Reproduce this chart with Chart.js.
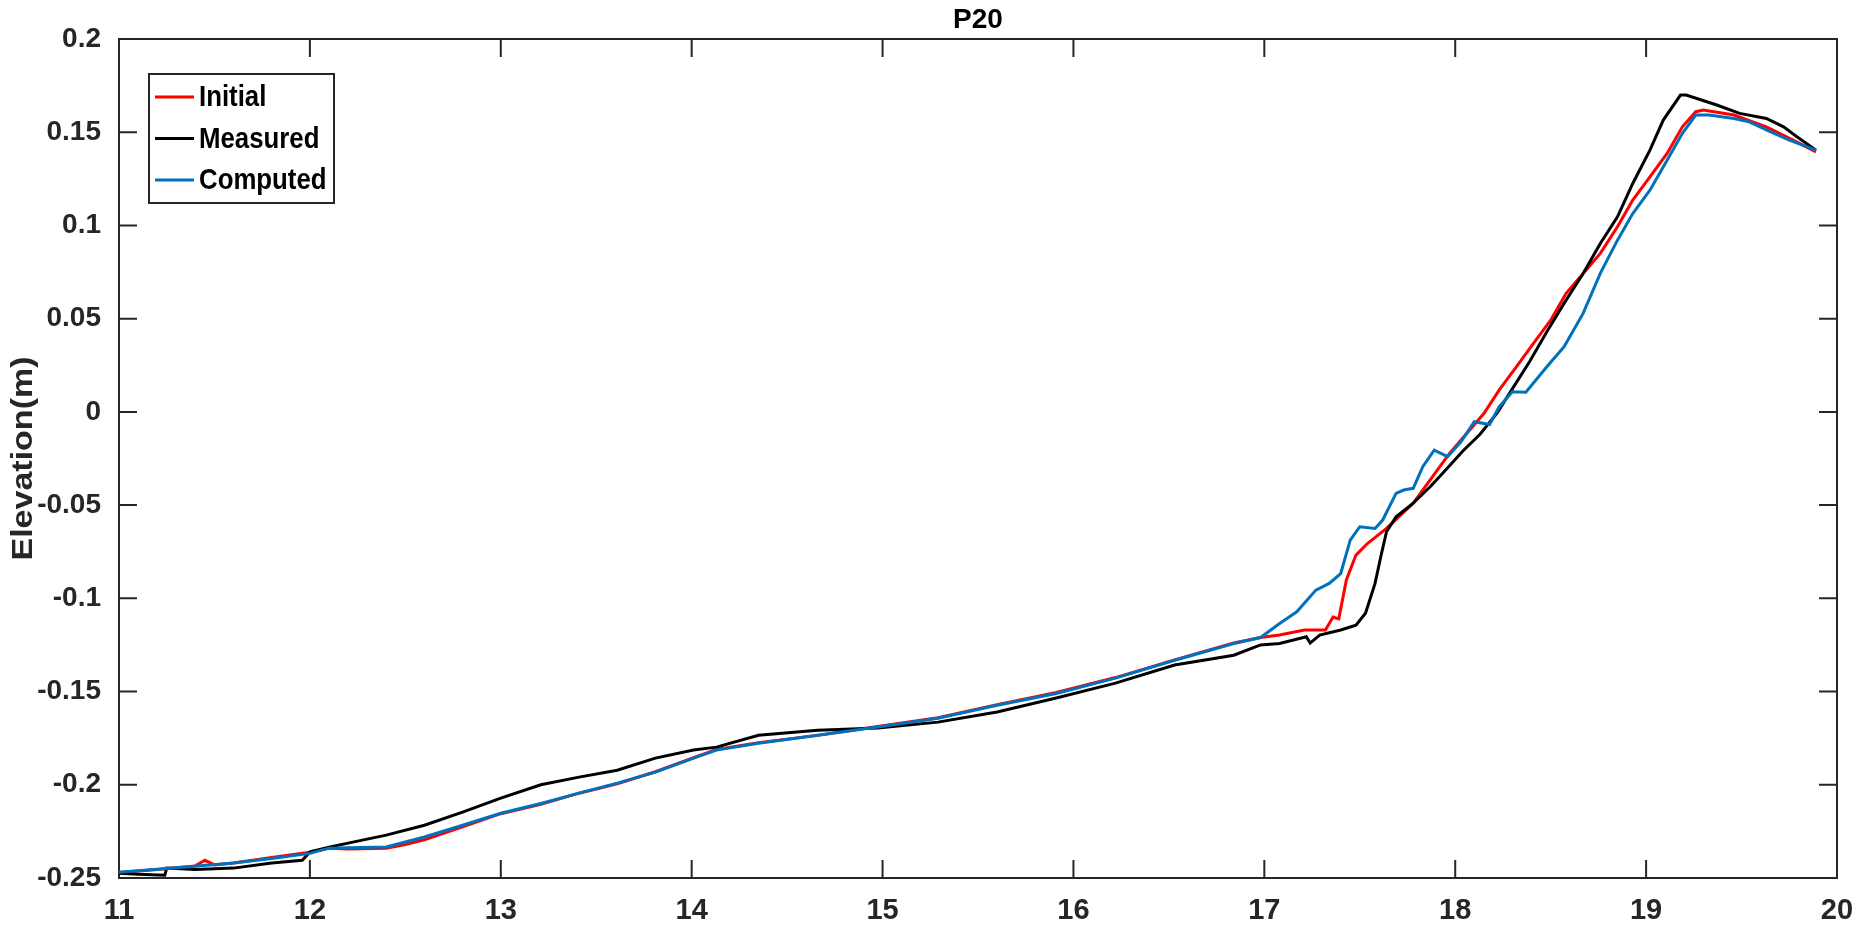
<!DOCTYPE html>
<html>
<head>
<meta charset="utf-8">
<title>P20</title>
<script src="https://cdn.jsdelivr.net/npm/chart.js@4/dist/chart.umd.min.js"></script>
<style>
  html, body { margin: 0; padding: 0; background: #fff; }
  #wrap { width: 1868px; height: 930px; }
</style>
</head>
<body>
<div id="wrap"><canvas id="profile" width="1868" height="930"></canvas></div>
<script>
// --- дані ---
const initialX = [11.00, 11.20, 11.40, 11.45, 11.50, 11.60, 11.80, 12.00, 12.10, 12.20, 12.40, 12.50, 12.60,
  12.80, 13.00, 13.21, 13.41, 13.61, 13.81, 14.01, 14.13, 14.35, 14.66, 14.975, 15.29, 15.60, 15.91,
  16.22, 16.53, 16.84, 16.98, 17.08, 17.21, 17.32, 17.36, 17.39, 17.43, 17.48, 17.54, 17.64, 17.78,
  17.97, 18.06, 18.15, 18.23, 18.32, 18.41, 18.50, 18.58, 18.67, 18.76, 18.85, 18.93, 19.02, 19.11,
  19.19, 19.26, 19.30, 19.46, 19.63, 19.77, 19.89];
const initialY = [-0.2470, -0.2455, -0.2435, -0.2405, -0.2430, -0.2420, -0.2390, -0.2362, -0.2340, -0.2345, -0.2340, -0.2320, -0.2295,
  -0.2225, -0.2155, -0.2105, -0.2045, -0.1995, -0.1930, -0.1855, -0.1810, -0.1775, -0.1735, -0.1688, -0.1640, -0.1570, -0.1505,
  -0.1425, -0.1330, -0.1240, -0.1210, -0.1197, -0.1170, -0.1170, -0.1100, -0.1110, -0.0900, -0.0768, -0.0706, -0.0625, -0.0490,
  -0.0223, -0.0116, -0.0009, 0.0117, 0.0242, 0.0367, 0.0492, 0.0635, 0.0742, 0.0850, 0.0993, 0.1136, 0.1261, 0.1386,
  0.1529, 0.1610, 0.1619, 0.1592, 0.1529, 0.1458, 0.1395];

const measuredX = [11.00, 11.10, 11.24, 11.25, 11.40, 11.60, 11.80, 11.96, 12.00, 12.10, 12.20, 12.40, 12.60,
  12.80, 13.00, 13.21, 13.41, 13.61, 13.81, 14.01, 14.13, 14.35, 14.66, 14.975, 15.29, 15.60, 15.91,
  16.22, 16.53, 16.84, 16.98, 17.08, 17.22, 17.24, 17.29, 17.40, 17.48, 17.53, 17.58, 17.61, 17.64,
  17.69, 17.78, 17.87, 17.95, 18.04, 18.13, 18.22, 18.30, 18.39, 18.48, 18.57, 18.67, 18.76, 18.85,
  18.93, 19.02, 19.09, 19.18, 19.21, 19.37, 19.49, 19.63, 19.72, 19.79, 19.89];
const measuredY = [-0.2475, -0.2480, -0.2485, -0.2447, -0.2455, -0.2447, -0.2420, -0.2405, -0.2360, -0.2335, -0.2313, -0.2270, -0.2217,
  -0.2147, -0.2072, -0.2000, -0.1959, -0.1922, -0.1857, -0.1814, -0.1798, -0.1734, -0.1707, -0.1696, -0.1664, -0.1610, -0.1535,
  -0.1455, -0.1358, -0.1305, -0.1250, -0.1242, -0.1206, -0.1240, -0.1197, -0.1170, -0.1144, -0.1080, -0.0920, -0.0777, -0.0643,
  -0.0563, -0.0490, -0.0400, -0.0312, -0.0210, -0.0120, -0.0005, 0.0125, 0.0270, 0.0430, 0.0582, 0.0742, 0.0903, 0.1046,
  0.1225, 0.1404, 0.1565, 0.1699, 0.1699, 0.1646, 0.1601, 0.1574, 0.1529, 0.1476, 0.1404];

const computedX = [11.00, 11.30, 11.60, 11.80, 12.00, 12.10, 12.20, 12.40, 12.60, 12.80, 13.00, 13.21, 13.41,
  13.61, 13.81, 14.01, 14.13, 14.35, 14.66, 14.975, 15.29, 15.60, 15.91, 16.22, 16.53, 16.84, 16.98,
  17.08, 17.17, 17.27, 17.34, 17.40, 17.45, 17.50, 17.58, 17.62, 17.69, 17.73, 17.78, 17.83, 17.89,
  17.96, 18.03, 18.10, 18.18, 18.23, 18.30, 18.37, 18.48, 18.57, 18.67, 18.76, 18.85, 18.93, 19.02,
  19.11, 19.19, 19.26, 19.33, 19.46, 19.54, 19.65, 19.75, 19.89];
const computedY = [-0.2469, -0.2445, -0.2420, -0.2395, -0.2368, -0.2340, -0.2338, -0.2334, -0.2280, -0.2217, -0.2153, -0.2100, -0.2045,
  -0.1991, -0.1932, -0.1857, -0.1814, -0.1777, -0.1734, -0.1690, -0.1643, -0.1573, -0.1510, -0.1428, -0.1332, -0.1242, -0.1210,
  -0.1135, -0.1072, -0.0956, -0.0920, -0.0867, -0.0688, -0.0616, -0.0625, -0.0580, -0.0437, -0.0419, -0.0410, -0.0294, -0.0205,
  -0.0240, -0.0160, -0.0053, -0.0068, 0.0027, 0.0108, 0.0105, 0.0242, 0.0349, 0.0528, 0.0743, 0.0921, 0.1064, 0.1189,
  0.1350, 0.1494, 0.1592, 0.1592, 0.1574, 0.1556, 0.1503, 0.1458, 0.1404];

const seriesNames = ['Initial', 'Measured', 'Computed'];
const xTicks = [11, 12, 13, 14, 15, 16, 17, 18, 19, 20];
const yTicks = [-0.25, -0.2, -0.15, -0.1, -0.05, 0, 0.05, 0.1, 0.15, 0.2];
const yTickLabels = ['-0.25', '-0.2', '-0.15', '-0.1', '-0.05', '0', '0.05', '0.1', '0.15', '0.2'];
const chartTitle = 'P20';
const yTitle = 'Elevation(m)';

// --- стилі ---
const AXIS_COLOR = '#262626';
const FONT = '"Liberation Sans", Arial, sans-serif';
const COLORS = ['#FF0000', '#000000', '#0072BD'];

function toPoints(xs, ys) {
    return xs.map((x, i) => ({ x: x, y: ys[i] }));
}

// рамка, внутрішні риски, заголовок і легенда в стилі MATLAB
const matlabFrame = {
    id: 'matlabFrame',
    beforeDatasetsDraw(chart) {
        const { ctx, chartArea: a, scales } = chart;
        ctx.save();
        ctx.strokeStyle = AXIS_COLOR;
        ctx.lineWidth = 2;
        ctx.strokeRect(a.left, a.top, a.right - a.left, a.bottom - a.top);
        const len = 18;
        ctx.beginPath();
        xTicks.forEach(v => {
            const px = scales.x.getPixelForValue(v);
            ctx.moveTo(px, a.bottom); ctx.lineTo(px, a.bottom - len);
            ctx.moveTo(px, a.top); ctx.lineTo(px, a.top + len);
        });
        yTicks.forEach(v => {
            const py = scales.y.getPixelForValue(v);
            ctx.moveTo(a.left, py); ctx.lineTo(a.left + len, py);
            ctx.moveTo(a.right, py); ctx.lineTo(a.right - len, py);
        });
        ctx.stroke();
        ctx.restore();
    },
    afterDraw(chart) {
        const { ctx, chartArea: a } = chart;
        ctx.save();
        // заголовок
        ctx.fillStyle = '#000';
        ctx.font = 'bold 28px ' + FONT;
        ctx.textAlign = 'center';
        ctx.textBaseline = 'middle';
        ctx.fillText(chartTitle, (a.left + a.right) / 2, 20);

        // підпис осі Y (трохи стиснутий, як у MATLAB)
        ctx.save();
        ctx.translate(24, (a.top + a.bottom) / 2);
        ctx.rotate(-Math.PI / 2);
        ctx.scale(1, 0.85);
        ctx.font = 'bold 34px ' + FONT;
        ctx.fillStyle = AXIS_COLOR;
        ctx.fillText(yTitle, 0, 0);
        ctx.restore();

        // легенда
        const bx = 149, by = 74, bw = 185, bh = 129;
        ctx.fillStyle = '#fff';
        ctx.fillRect(bx, by, bw, bh);
        ctx.strokeStyle = AXIS_COLOR;
        ctx.lineWidth = 2;
        ctx.strokeRect(bx, by, bw, bh);
        ctx.textAlign = 'left';
        ctx.textBaseline = 'middle';
        seriesNames.forEach((name, i) => {
            const cy = 97 + i * 41.5;
            ctx.strokeStyle = COLORS[i];
            ctx.lineWidth = 3;
            ctx.beginPath();
            ctx.moveTo(155, cy); ctx.lineTo(194, cy);
            ctx.stroke();
            ctx.save();
            ctx.translate(199, cy + 1);
            ctx.scale(0.86, 1);
            ctx.font = 'bold 30px ' + FONT;
            ctx.fillStyle = '#000';
            ctx.fillText(name, 0, 0);
            ctx.restore();
        });
        ctx.restore();
    }
};

const datasets = [
    { label: seriesNames[0], data: toPoints(initialX, initialY), borderColor: COLORS[0], order: 3 },
    { label: seriesNames[1], data: toPoints(measuredX, measuredY), borderColor: COLORS[1], order: 2 },
    { label: seriesNames[2], data: toPoints(computedX, computedY), borderColor: COLORS[2], order: 1 }
].map(d => ({ ...d, borderWidth: 3, pointRadius: 0, tension: 0, fill: false }));

new Chart(document.getElementById('profile'), {
    type: 'line',
    data: { datasets: datasets },
    plugins: [matlabFrame],
    options: {
        responsive: false,
        animation: false,
        devicePixelRatio: 1,
        layout: { padding: { top: 39, right: 31, left: 0, bottom: 0 } },
        plugins: {
            legend: { display: false },
            title: { display: false },
            tooltip: { enabled: false }
        },
        scales: {
            x: {
                type: 'linear',
                min: 11,
                max: 20,
                afterBuildTicks: s => { s.ticks = xTicks.map(v => ({ value: v })); },
                afterFit: s => { s.height = 52; },
                grid: { display: false },
                border: { display: false },
                ticks: {
                    color: AXIS_COLOR,
                    padding: 8,
                    font: { family: FONT, size: 29, weight: 'bold' },
                    maxRotation: 0,
                    callback: v => String(v)
                }
            },
            y: {
                type: 'linear',
                min: -0.25,
                max: 0.2,
                afterBuildTicks: s => { s.ticks = yTicks.map(v => ({ value: v })); },
                afterFit: s => { s.width = 119; },
                grid: { display: false },
                border: { display: false },
                ticks: {
                    color: AXIS_COLOR,
                    padding: 10,
                    font: { family: FONT, size: 28, weight: 'bold' },
                    callback: (v, i) => yTickLabels[i]
                }
            }
        }
    }
});
</script>
</body>
</html>
